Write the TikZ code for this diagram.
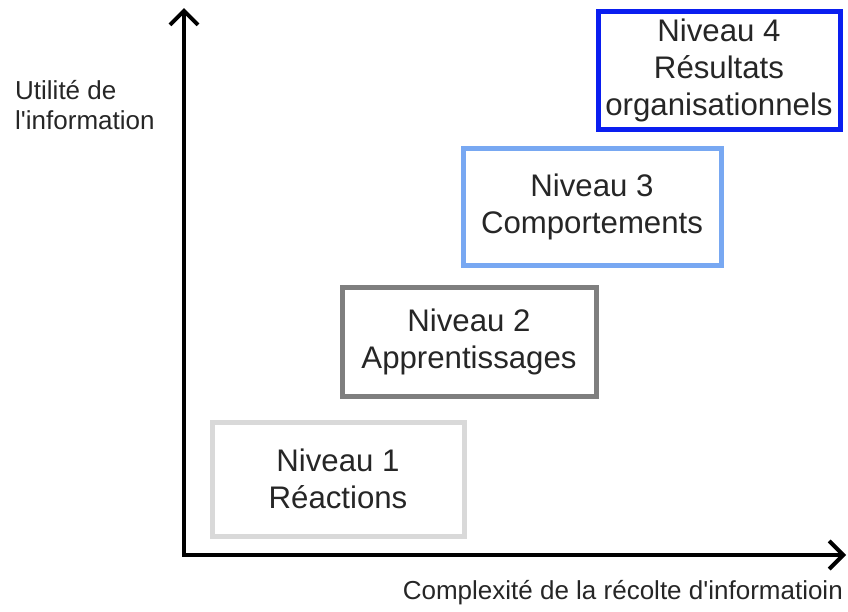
\documentclass[tikz,border=0pt]{standalone}
\usepackage{fontspec}
\setmainfont{Liberation Sans}
\usetikzlibrary{arrows.meta}
\definecolor{txt}{HTML}{262626}
\definecolor{c1}{HTML}{D9D9D9}
\definecolor{c2}{HTML}{7F7F7F}
\definecolor{c3}{HTML}{78A8F2}
\definecolor{c4}{HTML}{0A1EF0}
\tikzset{
  lvl/.style={draw, line width=5pt, fill=white, align=center, text=txt,
    font=\fontsize{31.2}{37}\selectfont, inner sep=0pt},
  axis/.style={line width=4.5pt, line cap=rect,
    arrows={Straight Barb[length=14pt,width=28pt,line width=4pt]-Straight Barb[length=14pt,width=28pt,line width=4pt]}},
  lbl/.style={text=txt, font=\fontsize{26}{30}\selectfont, inner sep=0pt}
}
\begin{document}
\begin{tikzpicture}[x=1pt,y=-1pt]
\useasboundingbox (0,0) rectangle (848,611);
\coordinate (O) at (184,555);
\coordinate (ytip) at (184,8);
\coordinate (xtip) at (846,555);
\draw[axis] (ytip) -- (O) -- (xtip);
\node[lbl, anchor=north west, align=left] (ylab) at (15,80) {Utilité de\\l\textquotesingle information};
\node[lbl, anchor=base east] (xlab) at (843,599) {Complexité de la récolte d\textquotesingle informatioin};
\node[lvl, draw=c1, minimum width=252pt, minimum height=114pt] (n1) at (338,479) {Niveau 1\\Réactions};
\node[lvl, draw=c2, minimum width=254pt, minimum height=109pt] (n2) at (469,341.5) {Niveau 2\\Apprentissages};
\node[lvl, draw=c3, minimum width=258pt, minimum height=117pt] (n3) at (592,206.5) {Niveau 3\\Comportements};
\node[lvl, draw=c4, minimum width=242pt, minimum height=118pt] (n4) at (719,70) {Niveau 4\\Résultats\\organisationnels};
\end{tikzpicture}
\end{document}
